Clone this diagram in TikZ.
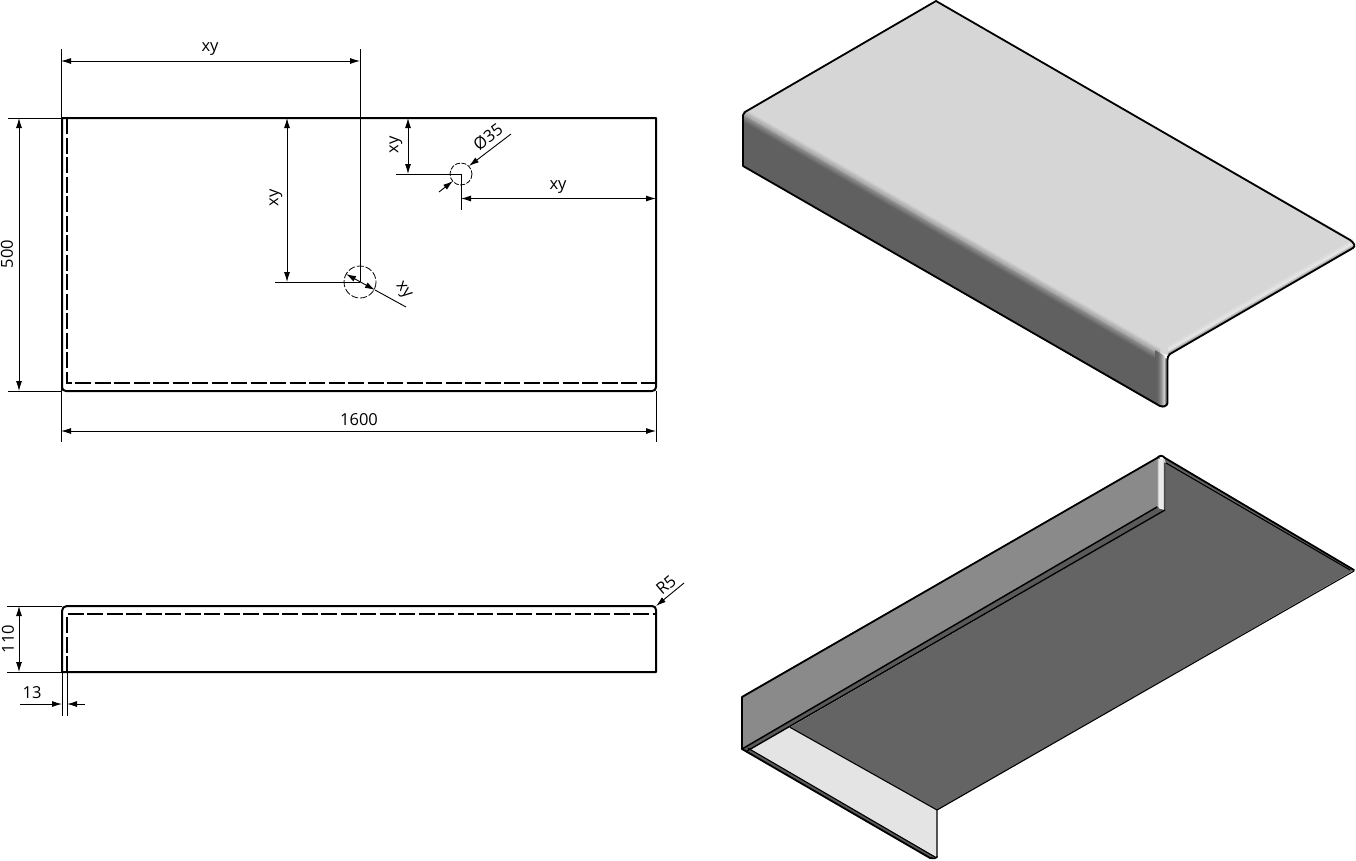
\documentclass[tikz,border=0pt]{standalone}
\usepackage{fontspec}
\setmainfont{Open Sans}
\usetikzlibrary{arrows.meta}
\definecolor{panelA}{HTML}{D6D6D6}
\definecolor{panelB}{HTML}{606060}
\definecolor{panelC}{HTML}{646464}
\definecolor{panelD}{HTML}{8A8A8A}
\definecolor{panelE}{HTML}{E4E4E4}
\tikzset{
  outline/.style={black,line width=2pt,line join=round},
  thinrule/.style={black,line width=0.9pt},
  hidden/.style={black,line width=1.05pt,dash pattern=on 16pt off 3.5pt},
  hiddenc/.style={black,line width=0.8pt,dash pattern=on 7pt off 2pt},
  dimboth/.style={thinrule,{Latex[length=10pt,width=6pt]}-{Latex[length=10pt,width=6pt]}},
  dimend/.style={thinrule,-{Latex[length=10pt,width=6pt]}},
  lab/.style={inner sep=0pt,font=\fontsize{16.5}{17}\selectfont},
  edge3d/.style={black,line width=1.8pt,line join=round,line cap=round},
  edge3dthin/.style={black,line width=1.1pt,line join=round,line cap=round}
}
\newcommand{\bandstrip}[8]{%
  % x1 y1 x2 y2 offsetstart offsetend grey1 grey2
  \foreach \i in {1,...,14}{%
    \pgfmathsetmacro\oa{#5+(#6-#5)*(\i-1)/14}%
    \pgfmathsetmacro\ob{#5+(#6-#5)*(\i+0.2)/14}%
    \pgfmathsetmacro\gv{#7+(#8-#7)*(\i-0.5)/14}%
    \definecolor{stripcol}{gray}{\gv}%
    \fill[stripcol] (#1,{#2+\oa}) -- (#3,{#4+\oa}) -- (#3,{#4+\ob}) -- (#1,{#2+\ob}) -- cycle;
  }}
\begin{document}
\begin{tikzpicture}[x=1pt,y=-1pt]
\useasboundingbox (0,0) rectangle (1356,860);
% ---------- plan view
\coordinate (pTL) at (62,118);
\coordinate (pTR) at (656,118);
\coordinate (pBR) at (656,391);
\coordinate (pBL) at (62,391);
\draw[hidden] (67,118) -- (67,383) -- (656,383);
\draw[outline] (pTL) -- (pTR) -- (656,387) .. controls (656,389.5) and (654.5,391) .. (652,391) -- (66,391) .. controls (63.5,391) and (62,389.5) .. (62,387) -- cycle;
% dims plan
\coordinate (e1a) at (61,49); \coordinate (e1b) at (61,442);
\coordinate (e2a) at (360,49); \coordinate (e2b) at (360,282);
\draw[thinrule] (e1a) -- (e1b);
\draw[thinrule] (e2a) -- (e2b);
\coordinate (d1a) at (61,61); \coordinate (d1b) at (360,61);
\draw[dimboth] (d1a) -- (d1b);
\node[lab] (t1) at (210,49) {xy};
\coordinate (e3a) at (8,118); \coordinate (e3b) at (8,391);
\draw[thinrule] (e3a) -- (pTL);
\draw[thinrule] (e3b) -- (pBL);
\coordinate (d2a) at (19,118); \coordinate (d2b) at (19,391);
\draw[dimboth] (d2a) -- (d2b);
\node[lab,rotate=90] (t2) at (7,254) {500};
\coordinate (e4) at (656,442);
\draw[thinrule] (pBR) -- (e4);
\coordinate (d3a) at (61,431); \coordinate (d3b) at (656,431);
\draw[dimboth] (d3a) -- (d3b);
\node[lab] (t3) at (359,420) {1600};
% large hole
\coordinate (c1) at (360,282);
\draw[hiddenc] (c1) circle[radius=16];
\coordinate (e5) at (275,282);
\draw[thinrule] (e5) -- (c1);
\coordinate (d4a) at (287,118); \coordinate (d4b) at (287,282);
\draw[dimboth] (d4a) -- (d4b);
\node[lab,rotate=90] (t4) at (276,198) {xy};
\coordinate (l1t) at (346,274); \coordinate (l1b) at (406,307); \coordinate (l1u) at (375,290);
\draw[dimboth] (l1t) -- (l1u);
\draw[thinrule] (l1u) -- (l1b);
\node[lab,rotate=-52] (t5) at (403,291) {xy};
% small hole
\coordinate (c2) at (461,174);
\draw[hiddenc,dash pattern=on 5pt off 1.5pt] (c2) circle[radius=11];
\coordinate (e6) at (396,174); \coordinate (e7) at (461,210);
\draw[thinrule] (e6) -- (c2) -- (e7);
\coordinate (d5a) at (408,118); \coordinate (d5b) at (408,174);
\draw[dimboth] (d5a) -- (d5b);
\node[lab,rotate=90] (t6) at (396,145) {xy};
\coordinate (d6a) at (461,198.5); \coordinate (d6b) at (656,198.5);
\draw[dimboth] (d6a) -- (d6b);
\node[lab] (t7) at (558,187) {xy};
\coordinate (l2a) at (511,134); \coordinate (l2b) at (469,166);
\draw[dimend] (l2a) -- (l2b);
\coordinate (l3a) at (439,192); \coordinate (l3b) at (453,181);
\draw[dimend] (l3a) -- (l3b);
\node[lab,rotate=37] (t8) at (488,137) {Ø35};
% ---------- side view
\coordinate (sBL) at (62,672); \coordinate (sBR) at (656,672);
\draw[hidden] (67,672) -- (67,614) -- (656,614);
\draw[outline] (sBL) -- (62,611) .. controls (62,608) and (64,606) .. (67,606) -- (652,606) .. controls (654.5,606) and (656,607.5) .. (656,610) -- (sBR) -- cycle;
\coordinate (e8a) at (7,606); \coordinate (e8b) at (62,606);
\coordinate (e9a) at (7,672);
\draw[thinrule] (e8a) -- (e8b);
\draw[thinrule] (e9a) -- (sBL);
\coordinate (d7a) at (19,606); \coordinate (d7b) at (19,672);
\draw[dimboth] (d7a) -- (d7b);
\node[lab,rotate=90] (t9) at (8,639) {110};
\coordinate (e10) at (62,716); \coordinate (e11a) at (67,672); \coordinate (e11) at (67,716);
\draw[thinrule] (sBL) -- (e10);
\draw[thinrule] (e11a) -- (e11);
\coordinate (d8a) at (20,704); \coordinate (d8b) at (62,704); \coordinate (d8c) at (85,704); \coordinate (d8d) at (67,704);
\draw[dimend] (d8a) -- (d8b);
\draw[dimend] (d8c) -- (d8d);
\node[lab] (t10) at (32,693) {13};
\coordinate (l4a) at (684,583); \coordinate (l4b) at (656,606);
\draw[dimend] (l4a) -- (l4b);
\node[lab,rotate=40] (t11) at (666,585) {R5};
% ---------- upper 3D view
\fill[panelA] (743,112) -- (936,1) -- (1353,240) -- (1355,246) -- (1168,355) -- (1160,353) -- cycle;
\fill[panelB] (743,115) -- (1160,355) -- (1167,360) -- (1167,405) -- (1160,407) -- (743,166) -- cycle;
\begin{scope}
\clip (743,112) -- (936,1) -- (1353,240) -- (1355,246) -- (1168,355) -- (1167,405) -- (1160,407) -- (743,166) -- cycle;
\bandstrip{743}{115}{1160}{355}{-7}{0}{0.84}{0.60}
\bandstrip{743}{115}{1160}{355}{0}{7}{0.60}{0.38}
% front bend of the top
\bandstrip{1168}{355}{1355}{247}{-10}{-4}{0.84}{0.92}
\bandstrip{1168}{355}{1355}{247}{-4}{0}{0.92}{0.50}
\end{scope}
% vertical bend
\foreach \i in {0,...,9}{
  \pgfmathsetmacro\xa{1155+\i}
  \pgfmathsetmacro\gv{0.375+(\i/9)^2*0.45}
  \definecolor{stripcol}{gray}{\gv}
  \fill[stripcol] (\xa,{355+(\xa-1160)*0.5755-2}) -- ({\xa+1.1},{355+(\xa+1.1-1160)*0.5755-2}) -- ({\xa+1.1},{406.6+(\xa+1.1-1160)*0.5755}) -- (\xa,{406.6+(\xa-1160)*0.5755}) -- cycle;
}
\foreach \i in {0,...,3}{
  \pgfmathsetmacro\xa{1166.4-\i*0.8}
  \pgfmathsetmacro\gv{0.40+\i*0.13}
  \definecolor{stripcol}{gray}{\gv}
  \fill[stripcol] (\xa,358) -- ({\xa+0.9},358) -- ({\xa+0.9},405) -- (\xa,406) -- cycle;
}
\fill[white] (1167.6,357) -- (1170,357) -- (1170,410) -- (1167.6,410) -- cycle;
\fill[white] (1150,402) -- (1160,408) -- (1170,408) -- (1170,420) -- (1150,420) -- cycle;
\draw[edge3d] (743,166) -- (743,115) -- (745,112) -- (936,1) -- (1350,240) .. controls (1354,243) and (1356,246) .. (1353,248) -- (1170,354) .. controls (1168,356) and (1167.5,357) .. (1167.5,360) -- (1167.5,403) .. controls (1167,406) and (1164,407) .. (1160,406) -- cycle;
% ---------- lower 3D view
\fill[panelD] (742,696) -- (1160,456) -- (1160,508) -- (742,749) -- cycle;
\fill[panelC] (790,727.3) -- (1166,510) -- (1166,463) -- (1354,570) -- (937,810) -- cycle;
\fill[panelE] (748,749) -- (790,727.3) -- (937,810) -- (937,857) -- cycle;
\fill[panelC!90!black] (742,749) -- (1157,508) -- (1165,510) -- (747,751) -- cycle;
\fill[panelC!90!black] (742,749) -- (748.3,748.3) -- (936,857) -- (930,858.3) -- cycle;
\fill[panelC] (1163,456.7) -- (1354,570) -- (1340,570) -- (1166,463) -- cycle;
\foreach \i in {0,...,7}{
  \pgfmathsetmacro\gv{\i<1 ? 0.60 : (\i<2 ? 0.80 : (\i<6 ? 0.92 : 0.84))}
  \definecolor{stripcol}{gray}{\gv}
  \fill[stripcol] ({1157.3+\i},459) -- ({1158.4+\i},459) -- ({1158.4+\i},{507+\i*0.3}) -- ({1157.3+\i},{507+\i*0.3}) -- cycle;
}
\draw[edge3d] (742,749) -- (742,697) -- (1157,458) .. controls (1160,455) and (1162,455) .. (1165,458) -- (1354,570);
\draw[edge3d,line width=1.5pt] (1157,507) -- (742,749);
\draw[edge3d] (742,749) -- (930,858) .. controls (934,858.5) and (936,858.5) .. (937,857);
\draw[edge3dthin,line width=1.4pt] (747,751) -- (1165,510) -- (1165,463);
\draw[edge3dthin,line width=1.1pt] (1166,463) -- (1350,570);
\draw[edge3dthin] (748.3,748.3) -- (935,857);
\draw[edge3dthin] (1354,571) -- (937,810) -- (937,857);
\draw[edge3dthin] (790,727.3) -- (937,810);
\end{tikzpicture}
\end{document}
